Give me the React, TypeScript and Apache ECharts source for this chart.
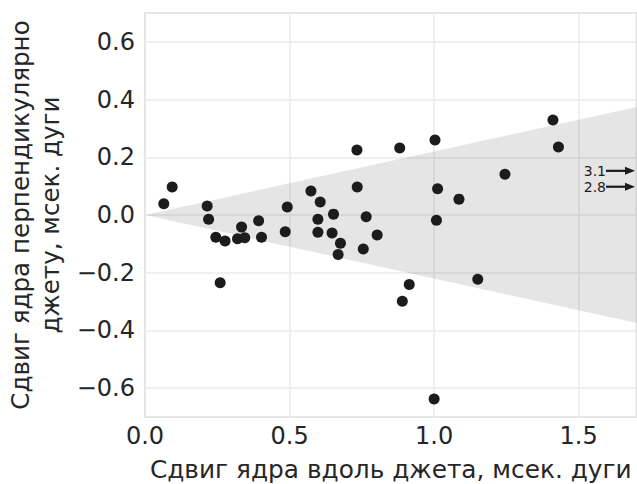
import React, { useEffect, useRef } from "react";
import * as echarts from "echarts";

const xs = [0.065, 0.094, 0.215, 0.22, 0.245, 0.26, 0.277, 0.32, 0.334, 0.345, 0.393, 0.403, 0.485, 0.492, 0.574, 0.598, 0.598, 0.606, 0.647, 0.652, 0.668, 0.676, 0.733, 0.734, 0.755, 0.765, 0.803, 0.881, 0.89, 0.914, 1.0, 1.003, 1.008, 1.012, 1.086, 1.151, 1.245, 1.411, 1.43];
const ys = [0.039, 0.097, 0.031, -0.015, -0.077, -0.235, -0.09, -0.082, -0.042, -0.079, -0.02, -0.077, -0.058, 0.028, 0.083, -0.015, -0.06, 0.045, -0.062, 0.003, -0.137, -0.098, 0.225, 0.097, -0.118, -0.006, -0.069, 0.232, -0.299, -0.241, -0.638, 0.26, -0.018, 0.091, 0.055, -0.223, 0.141, 0.329, 0.236];

// off-scale points, shown as arrows at the right edge
const outX = [3.1, 2.8];
const outY = [0.153, 0.098];

// shaded cone
const coneX = [0, 1.7, 1.7];
const coneY = [0, 0.374, -0.374];

const xMin = 0;
const xMax = 1.7;
const yMin = -0.7;
const yMax = 0.7;

const xTitle = "Сдвиг ядра вдоль джета, мсек. дуги";
const yTitle = "Сдвиг ядра перпендикулярно\nджету, мсек. дуги";

const FONT = "DejaVu Sans";
const TXT = "#262626";

export default function App() {
  const ref = useRef<HTMLDivElement>(null);
  useEffect(() => {
    if (!ref.current) return;
    const chart = echarts.init(ref.current, undefined, { renderer: "svg" });
    const fmt = (v: number) => v.toFixed(1).replace("-", "\u2212");
    chart.setOption({
      animation: false,
      backgroundColor: "#ffffff",
      textStyle: { fontFamily: FONT },
      grid: {
        left: 145,
        right: 0.5,
        top: 13,
        bottom: 67,
        outerBoundsMode: "none",
        containLabel: false,
        show: true,
        borderColor: "#cccccc",
        borderWidth: 1.5,
        backgroundColor: "transparent",
      },
      xAxis: {
        type: "value",
        min: xMin,
        max: xMax,
        interval: 0.5,
        axisLine: { show: false },
        axisTick: { show: false },
        splitLine: { show: true, lineStyle: { color: "#ebebeb", width: 1.5 } },
        axisLabel: {
          fontSize: 24,
          color: TXT,
          fontFamily: FONT,
          margin: 7,
          showMaxLabel: false,
          formatter: fmt,
        },
        name: xTitle,
        nameLocation: "middle",
        nameGap: 40,
        nameTextStyle: { fontSize: 24.8, color: TXT, fontFamily: FONT },
      },
      yAxis: {
        type: "value",
        min: yMin,
        max: yMax,
        splitNumber: 7,
        axisLine: { show: false },
        axisTick: { show: false },
        splitLine: { show: true, lineStyle: { color: "#ebebeb", width: 1.5 } },
        axisLabel: {
          fontSize: 24,
          color: TXT,
          fontFamily: FONT,
          margin: 10,
          showMinLabel: false,
          showMaxLabel: false,
          formatter: fmt,
        },
        name: yTitle,
        nameLocation: "middle",
        nameGap: 78,
        nameRotate: 90,
        nameTextStyle: { fontSize: 24.6, color: TXT, fontFamily: FONT, lineHeight: 30, align: "center" },
      },
      series: [
        {
          type: "custom",
          z: 1,
          silent: true,
          data: [0],
          renderItem: (params: any, api: any) => {
            const pts = coneX.map((x, i) => api.coord([x, coneY[i]]));
            return {
              type: "polygon",
              shape: { points: pts },
              style: { fill: "rgba(0,0,0,0.1)", stroke: "none" },
            };
          },
        },
        {
          type: "scatter",
          z: 3,
          symbol: "circle",
          symbolSize: 11,
          itemStyle: { color: "#1c1c1c", opacity: 1 },
          data: xs.map((x, i) => [x, ys[i]]),
        },
        {
          type: "custom",
          z: 4,
          silent: true,
          data: outX.map((x, i) => [x, outY[i]]),
          renderItem: (params: any, api: any) => {
            const cs = params.coordSys;
            const p = api.coord([xMin, api.value(1)]);
            const y = p[1];
            const tip = cs.x + cs.width - 1.5;
            const start = tip - 29;
            return {
              type: "group",
              children: [
                {
                  type: "line",
                  shape: { x1: start, y1: y, x2: tip - 8, y2: y },
                  style: { stroke: "#1c1c1c", lineWidth: 2.2 },
                },
                {
                  type: "polygon",
                  shape: { points: [[tip, y], [tip - 10, y - 4], [tip - 10, y + 4]] },
                  style: { fill: "#1c1c1c" },
                },
                {
                  type: "text",
                  style: {
                    x: start,
                    y: y,
                    text: String(api.value(0)),
                    align: "right",
                    verticalAlign: "middle",
                    fontSize: 14,
                    lineHeight: 14,
                    fontFamily: FONT,
                    fill: "#1c1c1c",
                  },
                },
              ],
            };
          },
        },
      ],
    });
    return () => chart.dispose();
  }, []);
  return (
    <div
      ref={ref}
      style={{ position: "fixed", left: 0, top: 0, width: 637, height: 484, background: "#fff" }}
    />
  );
}
